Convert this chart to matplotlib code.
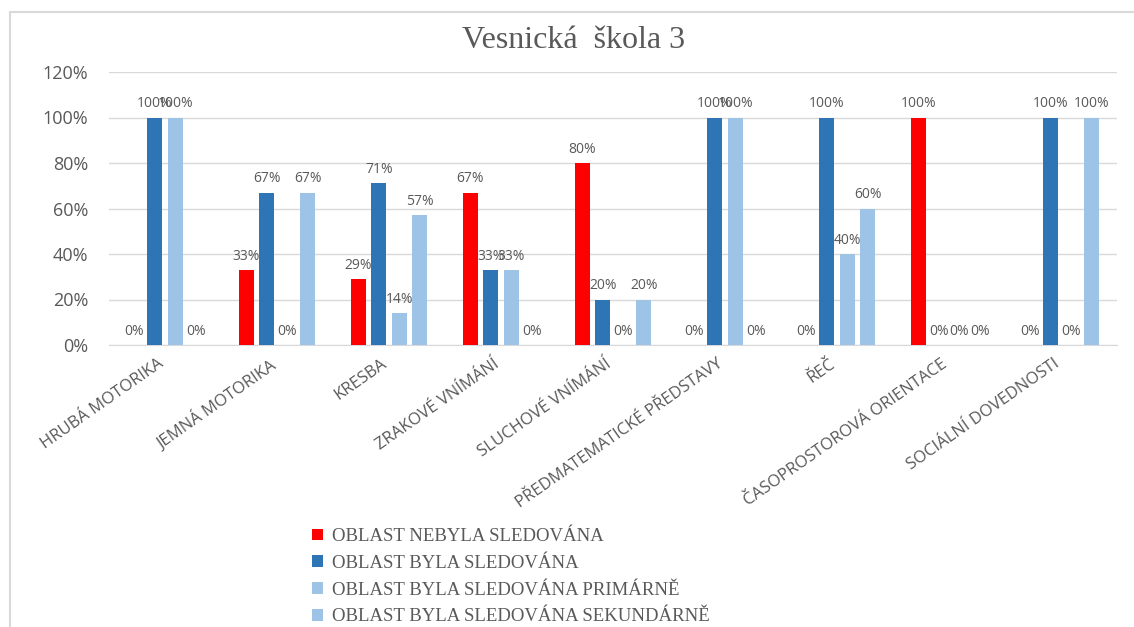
import matplotlib
matplotlib.use("Agg")
import matplotlib.pyplot as plt
import numpy as np
from matplotlib.lines import Line2D
from matplotlib.transforms import ScaledTranslation

categories = ["HRUBÁ MOTORIKA", "JEMNÁ MOTORIKA", "KRESBA", "ZRAKOVÉ VNÍMÁNÍ",
              "SLUCHOVÉ VNÍMÁNÍ", "PŘEDMATEMATICKÉ PŘEDSTAVY", "ŘEČ",
              "ČASOPROSTOROVÁ ORIENTACE", "SOCIÁLNÍ DOVEDNOSTI"]
series_names = ["OBLAST NEBYLA SLEDOVÁNA", "OBLAST BYLA SLEDOVÁNA",
                "OBLAST BYLA SLEDOVÁNA PRIMÁRNĚ", "OBLAST BYLA SLEDOVÁNA SEKUNDÁRNĚ"]
nebyla = [0, 33, 29, 67, 80, 0, 0, 100, 0]
byla = [100, 67, 71, 33, 20, 100, 100, 0, 100]
primarne = [100, 0, 14, 33, 0, 100, 40, 0, 0]
sekundarne = [0, 67, 57, 0, 20, 0, 60, 0, 100]
yticks = [0, 20, 40, 60, 80, 100, 120]
colors = ["#FF0000", "#2E75B6", "#9DC3E6", "#9DC3E6"]

gray = "#595959"
fig = plt.figure(figsize=(11.34, 6.27), dpi=100)
ax = fig.add_axes([109/1134, 1-345/627, (1117-109)/1134, (345-72)/627])

x = np.arange(len(categories))
slot = 0.183
width = 0.134
all_series = [nebyla, byla, primarne, sekundarne]
for i, (vals, c, name) in enumerate(zip(all_series, colors, series_names)):
    pos = x + (i - 1.5) * slot
    ax.bar(pos, [v/100 for v in vals], width=width, color=c, label=name, zorder=3)
    for p, v in zip(pos, vals):
        ax.annotate(f"{v}%", (p, v/100), xytext=(0, 10), textcoords="offset points",
                    ha="center", va="center", fontsize=10, color=gray,
                    family="Open Sans", zorder=4)

ax.set_xlim(-0.5, len(categories) - 0.5)
ax.set_ylim(0, 1.2)
ax.set_yticks([t/100 for t in yticks])
ax.set_yticklabels([f"{t}%" for t in yticks], fontsize=13, color=gray, family="Open Sans")
ax.yaxis.grid(True, color="#D9D9D9", linewidth=1, zorder=0)
ax.tick_params(axis="y", length=0, pad=15)
ax.tick_params(axis="x", length=0, pad=8)
ax.set_xticks(x)
ax.set_xticklabels(categories, rotation=35, ha="right", rotation_mode="anchor",
                   fontsize=12, color=gray, family="Open Sans")
shift = ScaledTranslation(-8/100, 0, fig.dpi_scale_trans)
for lbl in ax.get_xticklabels():
    lbl.set_transform(lbl.get_transform() + shift)
for s in ["top", "right", "left"]:
    ax.spines[s].set_visible(False)
ax.spines["bottom"].set_color("#D9D9D9")

fig.text(0.506, 1-40/627, "Vesnická  škola 3", ha="center", va="center",
         fontsize=23, color=gray, family="Liberation Serif")

# outer chart frame
fig.add_artist(Line2D([10/1134, 10/1134], [0, 1-12/627], transform=fig.transFigure,
                      color="#D9D9D9", linewidth=1.5))
fig.add_artist(Line2D([10/1134, 1], [1-12/627, 1-12/627], transform=fig.transFigure,
                      color="#D9D9D9", linewidth=1.5))

leg = fig.legend(loc="upper left", bbox_to_anchor=(299/1134, 1-515/627), frameon=False,
                 handlelength=0.6, handleheight=0.6, handletextpad=0.45,
                 labelspacing=0.52, borderpad=0.2,
                 prop={"family": "Liberation Serif", "size": 13.5})
for t in leg.get_texts():
    t.set_color(gray)

fig.savefig("out.png", dpi=100)
